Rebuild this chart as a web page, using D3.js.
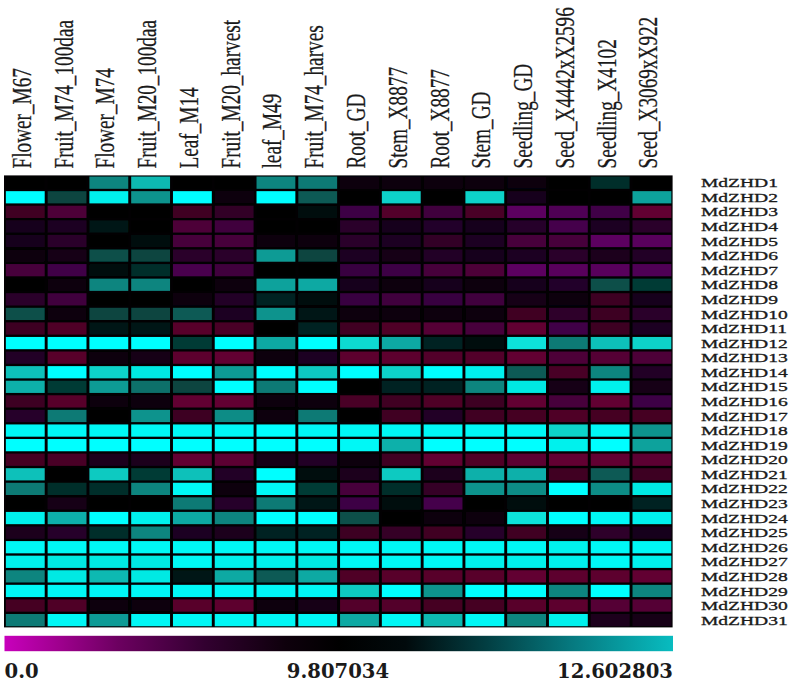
<!DOCTYPE html>
<html><head><meta charset="utf-8">
<script src="https://cdn.jsdelivr.net/npm/d3@7"></script>
<style>html,body{margin:0;padding:0;background:#fff}svg{display:block}</style>
</head><body><svg id="c" width="796" height="687"></svg>
<script>
const samples = ["Flower_M67","Fruit_M74_100daa","Flower_M74","Fruit_M20_100daa","Leaf_M14","Fruit_M20_harvest","leaf_M49","Fruit_M74_harves","Root_GD","Stem_X8877","Root_X8877","Stem_GD","Seedling_GD","Seed_X4442xX2596","Seedling_X4102","Seed_X3069xX922"];
const genes = d3.range(1,32).map(i=>"MdZHD"+i);
const expression = [
[9.8,9.8,11.0,11.7,9.8,9.8,11.0,10.9, 9.4,9.4,9.4,9.4,9.6,9.7,10.2,9.8],
[12.6,10.4,12.4,11.2,12.6,9.4,12.6,10.6, 9.7,12.0,9.7,12.0,9.1,9.7,9.7,11.4],
[7.9,6.9,9.7,9.7,7.9,8.3,9.7,9.9, 6.5,7.5,6.7,7.7,5.7,6.0,6.4,7.2],
[9.1,8.9,10.0,9.7,6.9,6.7,9.7,9.7, 8.5,9.1,8.7,9.1,8.6,6.3,8.9,8.5],
[9.1,8.5,9.7,9.9,6.8,6.8,9.5,9.5, 8.5,8.9,8.3,8.9,6.8,6.8,5.7,5.8],
[9.5,9.3,10.5,10.4,8.5,8.5,11.3,10.4, 8.9,9.3,8.8,9.1,8.9,8.5,9.0,8.8],
[6.8,6.4,9.9,10.2,6.2,6.7,9.7,9.7, 6.6,6.5,6.8,6.9,5.7,5.8,5.8,6.0],
[9.7,9.6,11.0,11.0,9.7,9.5,11.4,11.5, 9.1,9.4,9.1,9.5,9.1,8.7,10.5,10.3],
[8.5,6.7,9.7,9.7,9.4,8.8,10.1,9.9, 6.6,6.7,6.6,6.7,9.2,9.4,8.0,9.1],
[10.5,9.6,10.4,10.4,10.6,8.9,11.2,10.0, 9.6,9.6,9.6,9.6,7.9,8.4,8.0,8.5],
[8.0,7.6,10.0,10.0,7.4,7.7,9.7,10.1, 7.9,7.6,7.0,6.8,7.2,6.4,8.0,8.9],
[12.6,12.6,12.6,12.6,10.3,12.6,11.5,12.6, 12.1,11.5,10.1,9.9,12.2,10.9,11.8,12.0],
[8.8,7.4,9.5,9.2,7.3,7.2,9.4,8.9, 7.3,7.3,7.5,7.5,7.2,6.9,7.0,6.9],
[11.8,12.6,12.0,12.3,12.6,11.3,12.6,11.9, 12.6,12.0,12.6,12.4,10.6,7.7,11.0,8.8],
[11.6,10.3,11.3,10.8,10.4,12.6,10.9,12.6, 9.7,10.1,10.1,11.0,12.3,9.2,12.4,9.2],
[8.0,7.4,9.6,9.4,7.2,7.2,9.5,9.4, 7.7,7.9,7.6,8.0,7.2,6.8,7.2,6.5],
[8.6,10.9,9.7,11.2,8.0,11.1,9.6,10.9, 9.7,7.9,8.8,7.9,7.8,7.6,7.8,7.8],
[12.5,12.5,12.5,12.5,12.5,12.5,12.6,12.5, 12.5,12.5,12.5,12.5,12.5,12.0,12.5,11.2],
[12.6,12.6,12.6,12.6,12.6,12.6,12.6,12.6, 12.5,11.6,12.6,12.6,12.6,12.4,12.6,11.4],
[7.8,7.7,9.0,9.0,7.2,7.1,9.2,8.8, 9.5,7.9,7.2,7.6,7.1,7.2,7.2,7.1],
[11.8,9.7,11.9,10.3,11.8,8.8,12.6,9.9, 9.0,11.9,9.0,11.6,11.6,7.9,10.6,8.0],
[10.9,10.2,10.2,11.0,12.5,9.4,12.5,10.3, 6.8,10.2,8.2,11.2,11.1,12.6,11.1,12.3],
[9.8,9.2,9.8,9.8,10.9,8.6,10.9,10.0, 6.5,9.9,6.3,9.8,9.9,9.8,9.8,10.1],
[12.4,11.6,12.6,12.4,11.5,11.0,12.6,12.6, 10.5,9.7,9.5,9.6,12.2,12.6,12.5,12.4],
[9.0,8.6,10.2,11.0,8.9,9.0,10.1,10.1, 8.0,8.2,7.9,8.6,7.9,9.2,8.4,9.1],
[12.5,12.5,12.5,12.5,12.5,12.5,12.5,12.5, 12.5,12.5,12.5,12.5,12.5,12.4,12.5,12.5],
[12.4,12.3,12.3,12.3,12.5,12.4,12.4,12.3, 12.5,12.5,12.5,12.4,12.4,12.4,12.5,12.4],
[11.0,12.3,11.7,12.3,10.0,11.5,10.6,11.5, 7.6,7.4,7.4,7.4,7.2,7.3,7.3,7.2],
[12.5,12.5,12.5,12.5,12.5,12.5,12.5,12.5, 11.9,12.6,11.2,12.6,12.6,11.0,12.6,11.0],
[7.8,7.6,9.6,9.6,7.4,7.3,9.6,9.2, 7.5,7.5,7.8,7.8,7.4,7.3,7.0,7.0],
[10.9,12.5,11.3,12.5,12.5,12.5,12.5,12.5, 11.5,12.5,11.7,12.5,11.0,12.4,9.0,9.3]
];
const barStops = [0,9.807034,12.602803];
const barLabels = ["0.0","9.807034","12.602803"];
const barRamp = [[0,"#c800bc"],[0.08,"#a0008f"],[0.17,"#6c0060"],[0.3,"#320030"],[0.42,"#0e000c"],[0.5,"#000000"],[0.6,"#010a0c"],[0.72,"#023e42"],[0.85,"#067a80"],[1,"#08bcc0"]];

const svg = d3.select("#c");
const x = d3.scaleBand().domain(samples).range([4.6,672.6]).paddingInner(0.07).paddingOuter(0.03);
const y = d3.scaleBand().domain(genes).range([175.4,627.4]).paddingInner(0.16).paddingOuter(0.08);
const color = d3.scaleLinear()
 .domain([0,5.7,6.6,7.2,7.9,8.6,9.2,9.8,10.3,11.0,11.6,12.1,12.6])
 .range(["#c800c0","#5c0060","#380040","#620030","#400022","#26002c","#150018","#020002","#063a35","#0c857f","#10b0aa","#0adbd1","#00ffff"])
 .clamp(true);
const defs = svg.append("defs");
defs.append("filter").attr("id","soft").attr("x","-5%").attr("y","-5%").attr("width","110%").attr("height","110%")
 .append("feGaussianBlur").attr("stdDeviation",0.55);

svg.append("rect").attr("x",x.range()[0]-.6).attr("y",y.range()[0]).attr("width",x.range()[1]-x.range()[0]+.6).attr("height",y.range()[1]-y.range()[0]).attr("fill","#020002");

const cells = [];
expression.forEach((row,i)=>row.forEach((v,j)=>cells.push({g:genes[i],s:samples[j],v})));
svg.append("g").attr("filter","url(#soft)").selectAll("rect").data(cells).join("rect")
 .attr("x",d=>x(d.s)).attr("y",d=>y(d.g)).attr("width",x.bandwidth()).attr("height",y.bandwidth())
 .attr("fill",d=>color(d.v));

const ink="#1a1a1a";
svg.append("g").selectAll("text").data(samples).join("text")
 .attr("transform",d=>`translate(${x(d)+x.bandwidth()/2+5.5},168.5) rotate(-90) scale(0.7,1)`)
 .attr("font-family","Liberation Serif").attr("font-size",27.5).attr("fill",ink)
 .attr("stroke",ink).attr("stroke-width",.25).text(d=>d);

svg.append("g").selectAll("text").data(genes).join("text")
 .attr("transform",d=>`translate(701,${y(d)+y.bandwidth()/2+4.6}) scale(1.55,1)`)
 .attr("font-family","Liberation Serif").attr("font-size",12.6).attr("fill",ink)
 .attr("stroke",ink).attr("stroke-width",.3).text(d=>d);

// colour bar
const barX = d3.scaleLinear().domain(barStops).range([4.5,338,673]);
const grad = defs.append("linearGradient").attr("id","bar");
barRamp.forEach(([o,c])=>grad.append("stop").attr("offset",o).attr("stop-color",c));
svg.append("rect").attr("x",barX(0)).attr("y",635.8).attr("width",673-4.5).attr("height",15.4).attr("fill","url(#bar)");
svg.append("g").selectAll("text").data(barStops).join("text")
 .attr("x",d=>barX(d)).attr("y",678)
 .attr("text-anchor",(d,i)=>["start","middle","end"][i])
 .attr("font-family","DejaVu Serif").attr("font-weight","bold").attr("font-size",19.6).attr("fill",ink)
 .text((d,i)=>barLabels[i]);
</script></body></html>
